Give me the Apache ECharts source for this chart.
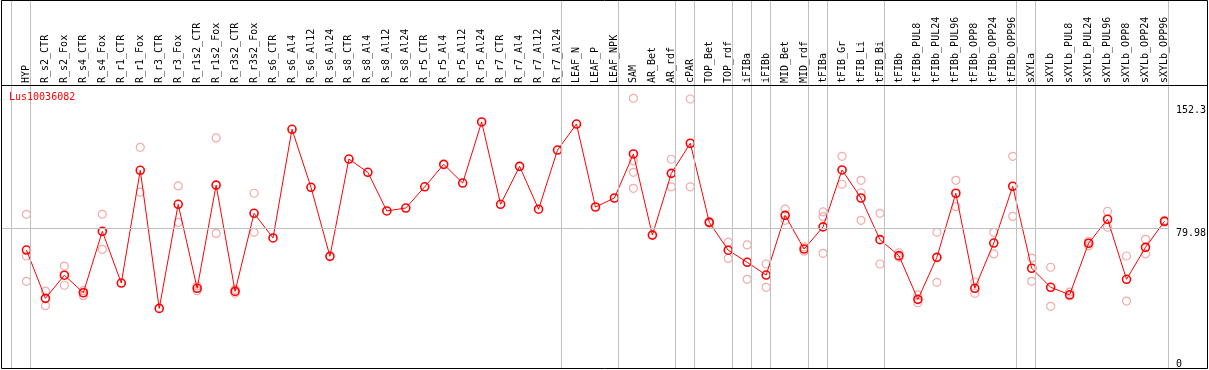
<!DOCTYPE html>
<html>
<head>
<meta charset="utf-8">
<script src="https://cdn.jsdelivr.net/npm/echarts@6/dist/echarts.min.js"></script>
<style>
  html, body { margin: 0; padding: 0; background: #fff; }
  #chart { width: 1209px; height: 370px; }
</style>
</head>
<body>
<div id="chart"></div>
<script>
const seriesName = 'Lus10036082';
const categories = [
  'HYP', 'R_s2_CTR', 'R_s2_Fox', 'R_s4_CTR', 'R_s4_Fox', 'R_r1_CTR', 'R_r1_Fox', 'R_r3_CTR', 'R_r3_Fox',
  'R_r1s2_CTR', 'R_r1s2_Fox', 'R_r3s2_CTR', 'R_r3s2_Fox', 'R_s6_CTR', 'R_s6_Al4', 'R_s6_Al12', 'R_s6_Al24',
  'R_s8_CTR', 'R_s8_Al4', 'R_s8_Al12', 'R_s8_Al24', 'R_r5_CTR', 'R_r5_Al4', 'R_r5_Al12', 'R_r5_Al24',
  'R_r7_CTR', 'R_r7_Al4', 'R_r7_Al12', 'R_r7_Al24', 'LEAF_N', 'LEAF_P', 'LEAF_NPK', 'SAM', 'AR_Bet', 'AR_rdf',
  'cPAR', 'TOP_Bet', 'TOP_rdf', 'iFIBa', 'iFIBb', 'MID_Bet', 'MID_rdf', 'tFIBa', 'tFIB_Gr', 'tFIB_Li', 'tFIB_Bi',
  'tFIBb', 'tFIBb_PUL8', 'tFIBb_PUL24', 'tFIBb_PUL96', 'tFIBb_OPP8', 'tFIBb_OPP24', 'tFIBb_OPP96',
  'sXYLa', 'sXYLb', 'sXYLb_PUL8', 'sXYLb_PUL24', 'sXYLb_PUL96', 'sXYLb_OPP8', 'sXYLb_OPP24', 'sXYLb_OPP96'
];
const means = [
  67.0, 38.6, 52.2, 41.9, 78.0, 47.6, 113.9, 32.7, 93.9,
  44.5, 105.2, 42.7, 88.6, 74.1, 138.0, 103.9, 63.3,
  120.5, 112.7, 90.0, 91.7, 104.2, 117.4, 106.4, 142.3,
  93.9, 116.2, 91.0, 125.8, 141.1, 92.3, 97.6, 123.5, 75.8, 112.1,
  129.8, 83.3, 66.9, 59.8, 52.3, 87.4, 67.6, 80.6, 114.1, 97.6, 73.1,
  63.7, 38.0, 62.7, 100.4, 44.5, 71.1, 104.5,
  56.3, 45.1, 40.7, 71.0, 85.1, 49.8, 68.6, 83.9
];
const replicates = [
  [88.0, 63.5, 48.6], [42.9, 34.3], [57.6, 46.3], [43.1, 40.2], [88.0, 67.4], [], [127.4, 101.0], [], [104.7, 83.3],
  [45.9, 43.1], [132.9, 76.8], [43.9, 41.6], [100.4, 77.4], [], [], [], [],
  [], [], [], [], [], [], [], [],
  [], [], [], [], [], [], [], [156.2, 119.4, 112.7, 103.3], [], [120.4, 104.2],
  [155.8, 104.2], [83.8, 82.8], [71.6, 62.1], [70.0, 49.8], [58.8, 45.1], [91.1, 84.5], [68.9, 66.3], [89.4, 86.6, 65.1], [122.1, 105.7], [108.0, 100.7, 84.5], [88.6, 58.8],
  [65.4, 62.7], [40.6, 36.0], [77.4, 48.0], [108.0, 92.5], [48.2, 41.6], [77.4, 64.7], [122.1, 86.8],
  [62.3, 48.6], [56.9, 33.9], [42.3, 40.0], [72.1, 69.4], [89.8, 80.4], [63.5, 37.0], [73.3, 64.7], [84.4, 83.4]
];
// index of the last category of each group (group separators)
const groupEnds = [-1, 0, 28, 31, 34, 35, 37, 38, 39, 41, 42, 45, 52, 53, 60];
const yTickLabels = [79.98, 152.3];
const yZeroLabel = [0];
const refLine = 79.98;

const FONT = 'DejaVu Sans Mono';
const SEP_OFFSET = 4 / 19;
const X_MIN = -1.342, X_MAX = 62.184;

const mainData = means.map((v, i) => [i, v]);
const repData = [];
replicates.forEach((arr, i) => arr.forEach(v => repData.push([i, v])));

const chart = echarts.init(document.getElementById('chart'), null, { renderer: 'canvas' });
const yAxisBase = {
  type: 'value', min: -2.352, max: 214.02, position: 'right',
  axisLine: { show: false }, axisTick: { show: false }, splitLine: { show: false }
};
chart.setOption({
  animation: false,
  title: {
    text: seriesName, left: 9, top: 91, padding: 0,
    textStyle: { color: '#ff0000', fontFamily: FONT, fontSize: 10, fontWeight: 'normal', lineHeight: 12 }
  },
  grid: { left: 1, top: 0, width: 1207, height: 368, containLabel: false },
  xAxis: {
    type: 'value', min: X_MIN, max: X_MAX, position: 'top',
    axisLine: { show: false }, axisTick: { show: false }, splitLine: { show: false },
    axisLabel: {
      inside: true, rotate: 90, margin: 83, align: 'left', verticalAlign: 'middle',
      customValues: categories.map((c, i) => i),
      formatter: v => categories[Math.round(v)] || '',
      fontFamily: FONT, fontSize: 10, color: '#000'
    }
  },
  yAxis: [
    Object.assign({}, yAxisBase, {
      axisLabel: {
        inside: true, margin: 30, align: 'left', verticalAlign: 'top', lineHeight: 10,
        customValues: yTickLabels, formatter: v => String(v),
        fontFamily: FONT, fontSize: 10, color: '#000'
      }
    }),
    Object.assign({}, yAxisBase, {
      axisLabel: {
        inside: true, margin: 30, align: 'left', verticalAlign: 'middle',
        customValues: yZeroLabel, formatter: v => String(v),
        fontFamily: FONT, fontSize: 10, color: '#000'
      }
    })
  ],
  graphic: [
    { type: 'rect', silent: true, z: 100, shape: { x: 1.5, y: 0.5, width: 1206, height: 368 },
      style: { fill: 'none', stroke: '#000', lineWidth: 1 } },
    { type: 'line', silent: true, z: 100, shape: { x1: 1, y1: 85.5, x2: 1208, y2: 85.5 },
      style: { stroke: '#000', lineWidth: 1 } }
  ],
  series: [
    {
      type: 'scatter', name: 'replicates', data: repData, z: 2,
      symbol: 'circle', symbolSize: 8,
      itemStyle: { color: 'rgba(0,0,0,0)', borderColor: '#f09696', borderWidth: 1.2 },
      emphasis: { disabled: true }, silent: true,
      markLine: {
        silent: true, symbol: 'none', animation: false,
        label: { show: false },
        lineStyle: { color: '#c0c0c0', width: 1, type: 'solid' },
        data: groupEnds.map(i => ({ xAxis: i + SEP_OFFSET })).concat([
          [{ coord: [X_MIN, refLine] }, { coord: [groupEnds[groupEnds.length - 1] + SEP_OFFSET, refLine] }]
        ])
      }
    },
    {
      type: 'line', name: seriesName, data: mainData, z: 3,
      symbol: 'circle', symbolSize: 8, showAllSymbol: true,
      lineStyle: { color: '#ff0000', width: 1 },
      itemStyle: { color: 'rgba(0,0,0,0)', borderColor: '#ff0000', borderWidth: 1.6 },
      emphasis: { disabled: true }, silent: true
    }
  ]
});
</script>
</body>
</html>
